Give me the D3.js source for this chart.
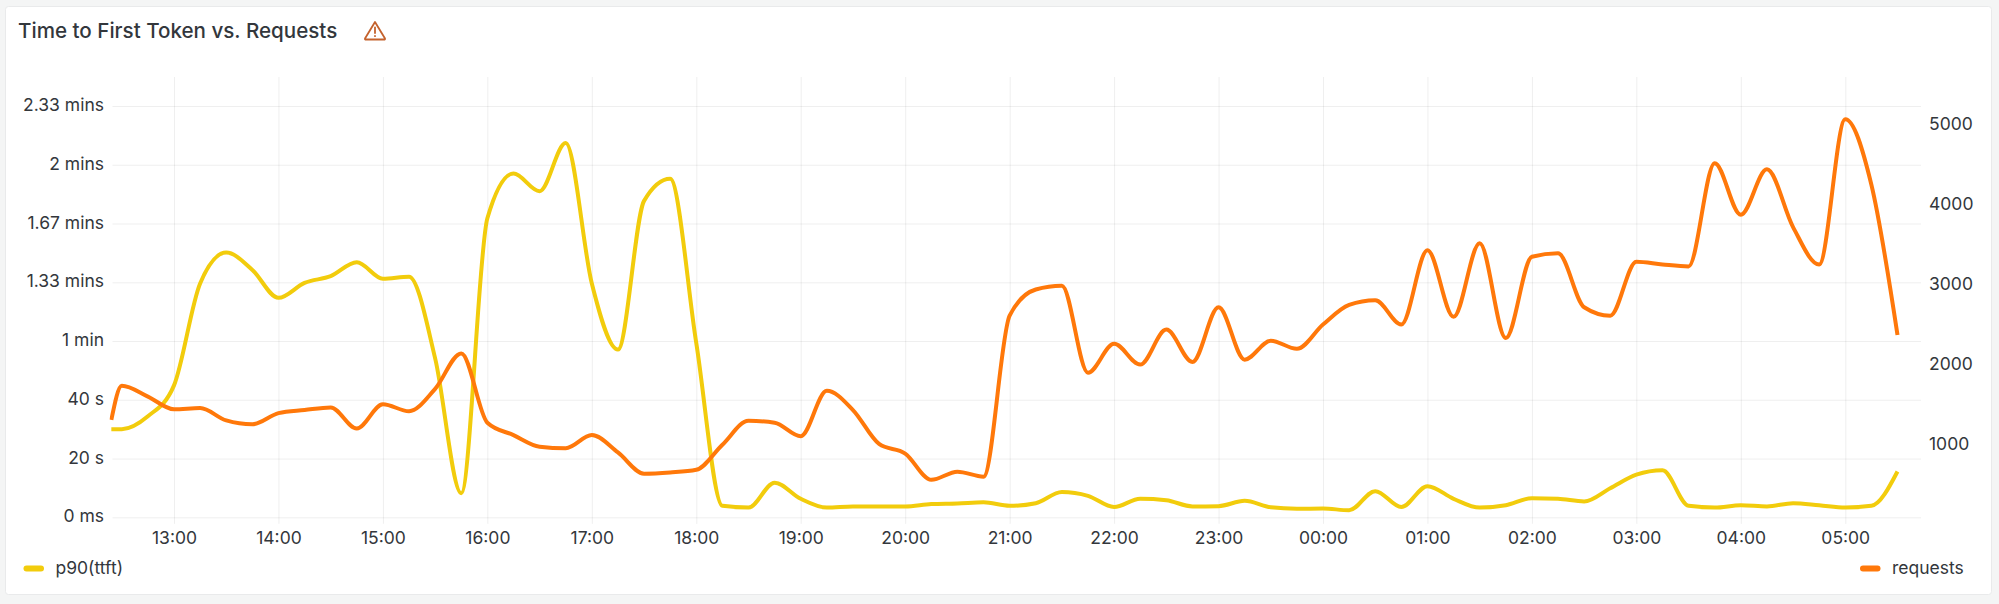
<!DOCTYPE html>
<html>
<head>
<meta charset="utf-8">
<script src="https://cdn.jsdelivr.net/npm/d3@7"></script>
<style>
  html, body { margin: 0; padding: 0; background: #f4f5f5; }
  svg { display: block; }
  text { font-family: Inter, "Noto Sans", sans-serif; fill: #33373c; }
  .domain { display: none; }
  .tick line { stroke: #24292e; stroke-opacity: 0.075; }
</style>
</head>
<body>
<svg id="chart" width="1999" height="604"></svg>
<script>
const times = [
  "12:24", "12:30", "12:45", "13:00", "13:15", "13:30", "13:45", "14:00", "14:15", "14:30", "14:45", "15:00",
  "15:15", "15:30", "15:45", "16:00", "16:15", "16:30", "16:45", "17:00", "17:15", "17:30", "17:45", "18:00",
  "18:15", "18:30", "18:45", "19:00", "19:15", "19:30", "19:45", "20:00", "20:15", "20:30", "20:45", "21:00",
  "21:15", "21:30", "21:45", "22:00", "22:15", "22:30", "22:45", "23:00", "23:15", "23:30", "23:45", "00:00",
  "00:15", "00:30", "00:45", "01:00", "01:15", "01:30", "01:45", "02:00", "02:15", "02:30", "02:45", "03:00",
  "03:15", "03:30", "03:45", "04:00", "04:15", "04:30", "04:45", "05:00", "05:15", "05:30"
];

// p90 time to first token, seconds
const ttft = [
  30, 30, 34.4, 44.9, 79.6, 90.1, 84.2, 74.7, 79.8, 82.1, 86.8, 81.2,
  81.9, 54.1, 8.2, 101.8, 117, 111, 127.4, 79.6, 57.1, 107.7, 115.2, 59.3,
  3.9, 3.3, 11.8, 6.3, 3.3, 3.7, 3.7, 3.7, 4.5, 4.7, 5.1, 3.9,
  4.8, 8.6, 7.3, 3.5, 6.3, 5.8, 3.7, 3.8, 5.6, 3.4, 2.9, 3,
  2.4, 8.9, 3.5, 10.6, 6.3, 3.3, 4.1, 6.5, 6.3, 5.4, 9.9, 14.5,
  16, 3.9, 3.3, 4.1, 3.7, 4.8, 4.1, 3.3, 3.9, 15.6
];

const requests = [
  1300, 1727, 1592, 1433, 1448, 1294, 1246, 1385, 1424, 1457, 1193, 1496,
  1409, 1689, 2132, 1265, 1111, 966, 947, 1111, 894, 629, 644, 677,
  990, 1289, 1265, 1096, 1664, 1424, 1000, 880, 552, 653, 591, 2603,
  2931, 2979, 1891, 2252, 1992, 2430, 2026, 2709, 2054, 2290, 2189, 2493,
  2738, 2796, 2493, 3422, 2589, 3509, 2324, 3340, 3383, 2709, 2603, 3278,
  3244, 3220, 4510, 3865, 4433, 3711, 3244, 5059, 4240, 2363
];

const leftTicks = [0, 20, 40, 60, 80, 100, 120, 140];
const leftLabels = ["0 ms", "20 s", "40 s", "1 min", "1.33 mins", "1.67 mins", "2 mins", "2.33 mins"];
const rightTicks = [1000, 2000, 3000, 4000, 5000];
const hourTicks = ["13:00", "14:00", "15:00", "16:00", "17:00", "18:00", "19:00", "20:00", "21:00",
  "22:00", "23:00", "00:00", "01:00", "02:00", "03:00", "04:00", "05:00"];

const yellow = "#f2cc0c";
const orange = "#ff780a";
const fontSize = 17.5;

// hours before noon belong to the next day
function toDate(label) {
  const [h, m] = label.split(":").map(Number);
  return new Date(2024, 0, h < 12 ? 2 : 1, h, m);
}

const plotLeft = 112.5, plotRight = 1921, plotTop = 106, plotBottom = 517.3;

const x = d3.scaleTime()
  .domain([new Date(2024, 0, 1, 12, 24, 40), new Date(2024, 0, 2, 5, 43, 30)])
  .range([plotLeft, plotRight]);
const yTtft = d3.scaleLinear().domain([0, 140]).range([plotBottom, plotTop]);
const yReq = d3.scaleLinear().domain([83, 5225]).range([plotBottom, plotTop]);

const svg = d3.select("#chart");

svg.append("rect")
  .attr("x", 5.5).attr("y", 6.5)
  .attr("width", 1986).attr("height", 588)
  .attr("rx", 3)
  .attr("fill", "#fff")
  .attr("stroke", "#e9eaeb");

svg.append("text")
  .attr("x", 18).attr("y", 31)
  .attr("dy", "0.35em")
  .attr("font-size", 20.6)
  .attr("font-weight", 500)
  .text("Time to First Token vs. Requests");

// warning icon
const icon = svg.append("g")
  .attr("transform", "translate(364.5, 21)")
  .attr("fill", "none")
  .attr("stroke", "#c4622d")
  .attr("stroke-width", 1.8)
  .attr("stroke-linejoin", "round")
  .attr("stroke-linecap", "round");
icon.append("path").attr("d", "M10.5 1 L20.5 17.5 Q20.8 18.5 19.5 18.5 L1.5 18.5 Q0.2 18.5 0.5 17.5 Z");
icon.append("path").attr("d", "M10.5 6.5 L10.5 12");
icon.append("path").attr("d", "M10.5 15 L10.5 15.2");

// axes
const gx = svg.append("g")
  .attr("transform", `translate(0, ${plotBottom})`)
  .call(d3.axisBottom(x)
    .tickValues(hourTicks.map(toDate))
    .tickFormat(d3.timeFormat("%H:%M")));
gx.selectAll(".tick line")
  .attr("y1", 6.5)
  .attr("y2", 77 - plotBottom);
gx.selectAll(".tick text")
  .attr("y", 20.5)
  .attr("dy", "0.35em")
  .attr("font-size", fontSize);

const gl = svg.append("g")
  .attr("transform", `translate(${plotLeft}, 0)`)
  .call(d3.axisLeft(yTtft)
    .tickValues(leftTicks)
    .tickSize(0)
    .tickPadding(8.5)
    .tickFormat((d, i) => leftLabels[i]));
gl.selectAll(".tick line").attr("x2", plotRight - plotLeft);
gl.selectAll(".tick text").attr("font-size", fontSize).attr("y", -1);

const gr = svg.append("g")
  .attr("transform", `translate(${plotRight}, 0)`)
  .call(d3.axisRight(yReq)
    .tickValues(rightTicks)
    .tickSize(0)
    .tickPadding(8)
    .tickFormat(d3.format("d")));
gr.selectAll(".tick line").remove();
gr.selectAll(".tick text").attr("font-size", fontSize);

svg.selectAll(".tick text").attr("font-family", "Inter, 'Noto Sans', sans-serif").style("fill", "#33373c");

// series
svg.append("clipPath").attr("id", "plot")
  .append("rect")
  .attr("x", plotLeft - 3).attr("y", 60)
  .attr("width", plotRight - plotLeft + 3).attr("height", 470);

function drawSeries(values, yScale, colour) {
  const line = d3.line()
    .x((d, i) => x(toDate(times[i])))
    .y(d => yScale(d))
    .curve(d3.curveMonotoneX);
  svg.append("path")
    .datum(values)
    .attr("clip-path", "url(#plot)")
    .attr("fill", "none")
    .attr("stroke", colour)
    .attr("stroke-width", 4)
    .attr("stroke-linejoin", "round")
    .attr("d", line);
}

drawSeries(ttft, yTtft, yellow);
drawSeries(requests, yReq, orange);

// legend
function legendItem(swatchX, textX, colour, label) {
  svg.append("rect")
    .attr("x", swatchX).attr("y", 565.5)
    .attr("width", 20.5).attr("height", 6)
    .attr("rx", 3)
    .attr("fill", colour);
  svg.append("text")
    .attr("x", textX).attr("y", 568)
    .attr("dy", "0.35em")
    .attr("font-size", fontSize)
    .text(label);
}
legendItem(23.5, 55.5, yellow, "p90(ttft)");
legendItem(1860, 1892, orange, "requests");
</script>
</body>
</html>
